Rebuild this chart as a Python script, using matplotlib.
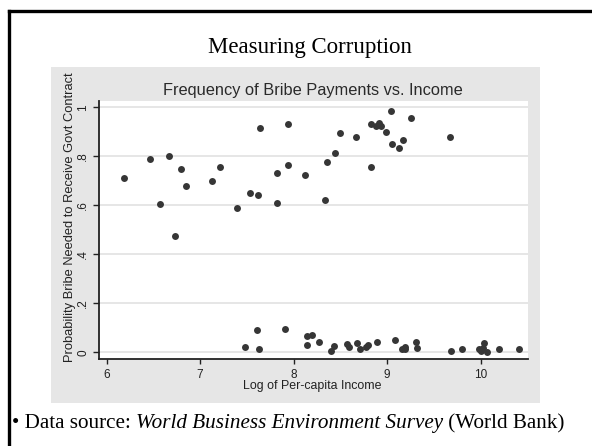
import matplotlib
matplotlib.use("Agg")
import matplotlib.pyplot as plt
from matplotlib.patches import Rectangle
from matplotlib.lines import Line2D

# Countries where bribes are common (upper band)
log_income_high = [6.19, 6.46, 6.67, 6.57, 6.73, 6.80, 6.85, 7.13, 7.21, 7.39,
                   7.53, 7.62, 7.64, 7.82, 7.82, 7.94, 7.94, 8.12, 8.34, 8.36,
                   8.44, 8.50, 8.67, 8.83, 8.83, 8.88, 8.915, 8.93, 8.99, 9.04,
                   9.05, 9.13, 9.17, 9.26, 9.67]
bribe_prob_high = [0.710, 0.789, 0.801, 0.605, 0.476, 0.748, 0.680, 0.699, 0.756, 0.591,
                   0.650, 0.642, 0.915, 0.732, 0.608, 0.932, 0.765, 0.724, 0.620, 0.775,
                   0.813, 0.895, 0.880, 0.932, 0.756, 0.925, 0.935, 0.924, 0.899, 0.983,
                   0.851, 0.835, 0.866, 0.957, 0.880]

# Countries where bribes are rare (lower band)
log_income_low = [7.48, 7.61, 7.63, 7.91, 8.14, 8.20, 8.14, 8.27, 8.40, 8.43,
                  8.57, 8.59, 8.68, 8.71, 8.77, 8.80, 8.89, 9.08, 9.16, 9.19,
                  9.19, 9.31, 9.32, 9.68, 9.80, 9.985, 10.006, 10.02, 10.035, 10.07,
                  10.20, 10.41]
bribe_prob_low = [0.023, 0.090, 0.015, 0.095, 0.068, 0.072, 0.031, 0.040, 0.005, 0.024,
                  0.034, 0.020, 0.039, 0.014, 0.023, 0.029, 0.043, 0.050, 0.015, 0.015,
                  0.022, 0.040, 0.016, 0.004, 0.014, 0.012, 0.005, 0.016, 0.038, 0.003,
                  0.012, 0.012]

x_ticks = [6, 7, 8, 9, 10]
y_ticks = [0, 0.2, 0.4, 0.6, 0.8, 1.0]
y_tick_labels = ["0", ".2", ".4", ".6", ".8", "1"]

SANS = ["Liberation Sans", "DejaVu Sans"]
SERIF = ["Liberation Serif", "DejaVu Serif"]

W, H = 592, 446
fig = plt.figure(figsize=(W / 100, H / 100), dpi=100)
fig.patch.set_facecolor("white")


def fx(px):
    return px / W


def fy(py):
    return 1 - py / H


# slide frame (left and top edges)
fig.add_artist(Line2D([fx(8.5), fx(8.5)], [fy(10.5), fy(460)], color="black",
                      linewidth=2.4, transform=fig.transFigure, solid_capstyle="projecting"))
fig.add_artist(Line2D([fx(8.5), fx(620)], [fy(10.5), fy(10.5)], color="black",
                      linewidth=2.4, transform=fig.transFigure, solid_capstyle="projecting"))

# grey graph region
fig.add_artist(Rectangle((fx(50.7), fy(403.3)), fx(540 - 50.7), (403.3 - 66.7) / H,
                         transform=fig.transFigure, facecolor="#e6e6e6",
                         edgecolor="none", zorder=-5))

fig.text(fx(310), fy(47), "Measuring Corruption", family=SERIF, fontsize=16.5,
         ha="center", va="center", color="black")

ax = fig.add_axes([fx(99), fy(359.3), fx(527.7 - 99), (359.3 - 100.7) / H])
ax.set_zorder(2)
ax.set_facecolor("white")
ax.set_xlim(5.918, 10.503)
ax.set_ylim(-0.0286, 1.027)

ax.scatter(log_income_high, bribe_prob_high, s=25, color="#363636", linewidths=0, zorder=3)
ax.scatter(log_income_low, bribe_prob_low, s=25, color="#363636", linewidths=0, zorder=3)

ax.tick_params(axis="both", width=1.0, color="#222222", labelcolor="#222222",
               labelsize=8.5)
ax.tick_params(axis="x", length=3.6, pad=3.5)
ax.tick_params(axis="y", length=4.3, pad=2.8)
ax.set_yticks(y_ticks)
ax.set_yticklabels(y_tick_labels, rotation=90, va="center", family=SANS)
ax.set_xticks(x_ticks)
ax.set_xticklabels([str(t) for t in x_ticks], family=SANS)
ax.grid(axis="y", color="#e6e6e6", linewidth=1.4)
ax.set_axisbelow(True)
for side in ("top", "right"):
    ax.spines[side].set_visible(False)
for side in ("left", "bottom"):
    ax.spines[side].set_color("#222222")
    ax.spines[side].set_linewidth(1.3)

fig.text(fx(312.5), fy(90.5), "Frequency of Bribe Payments vs. Income", family=SANS,
         fontsize=11.8, ha="center", va="center", color="#2a2a2a")
fig.text(fx(312.5), fy(386), "Log of Per-capita Income", family=SANS,
         fontsize=8.95, ha="center", va="center", color="#222222")
fig.text(fx(70.5), fy(217.5), "Probability Bribe Needed to Receive Govt Contract", family=SANS,
         fontsize=9.3, ha="center", va="center", rotation=90, color="#222222")

# source note
NOTE_SIZE = 15.2
t1 = fig.text(fx(12), fy(428), "\u2022 Data source: ", family=SERIF, fontsize=NOTE_SIZE,
              ha="left", va="baseline", color="black")
fig.canvas.draw()
r = t1.get_window_extent()
t2 = fig.text(r.x1 / W, fy(428), "World Business Environment Survey", family=SERIF,
              style="italic", fontsize=NOTE_SIZE, ha="left", va="baseline", color="black")
fig.canvas.draw()
r2 = t2.get_window_extent()
fig.text(r2.x1 / W, fy(428), " (World Bank)", family=SERIF, fontsize=NOTE_SIZE,
         ha="left", va="baseline", color="black")

fig.savefig("out.png", dpi=100)
